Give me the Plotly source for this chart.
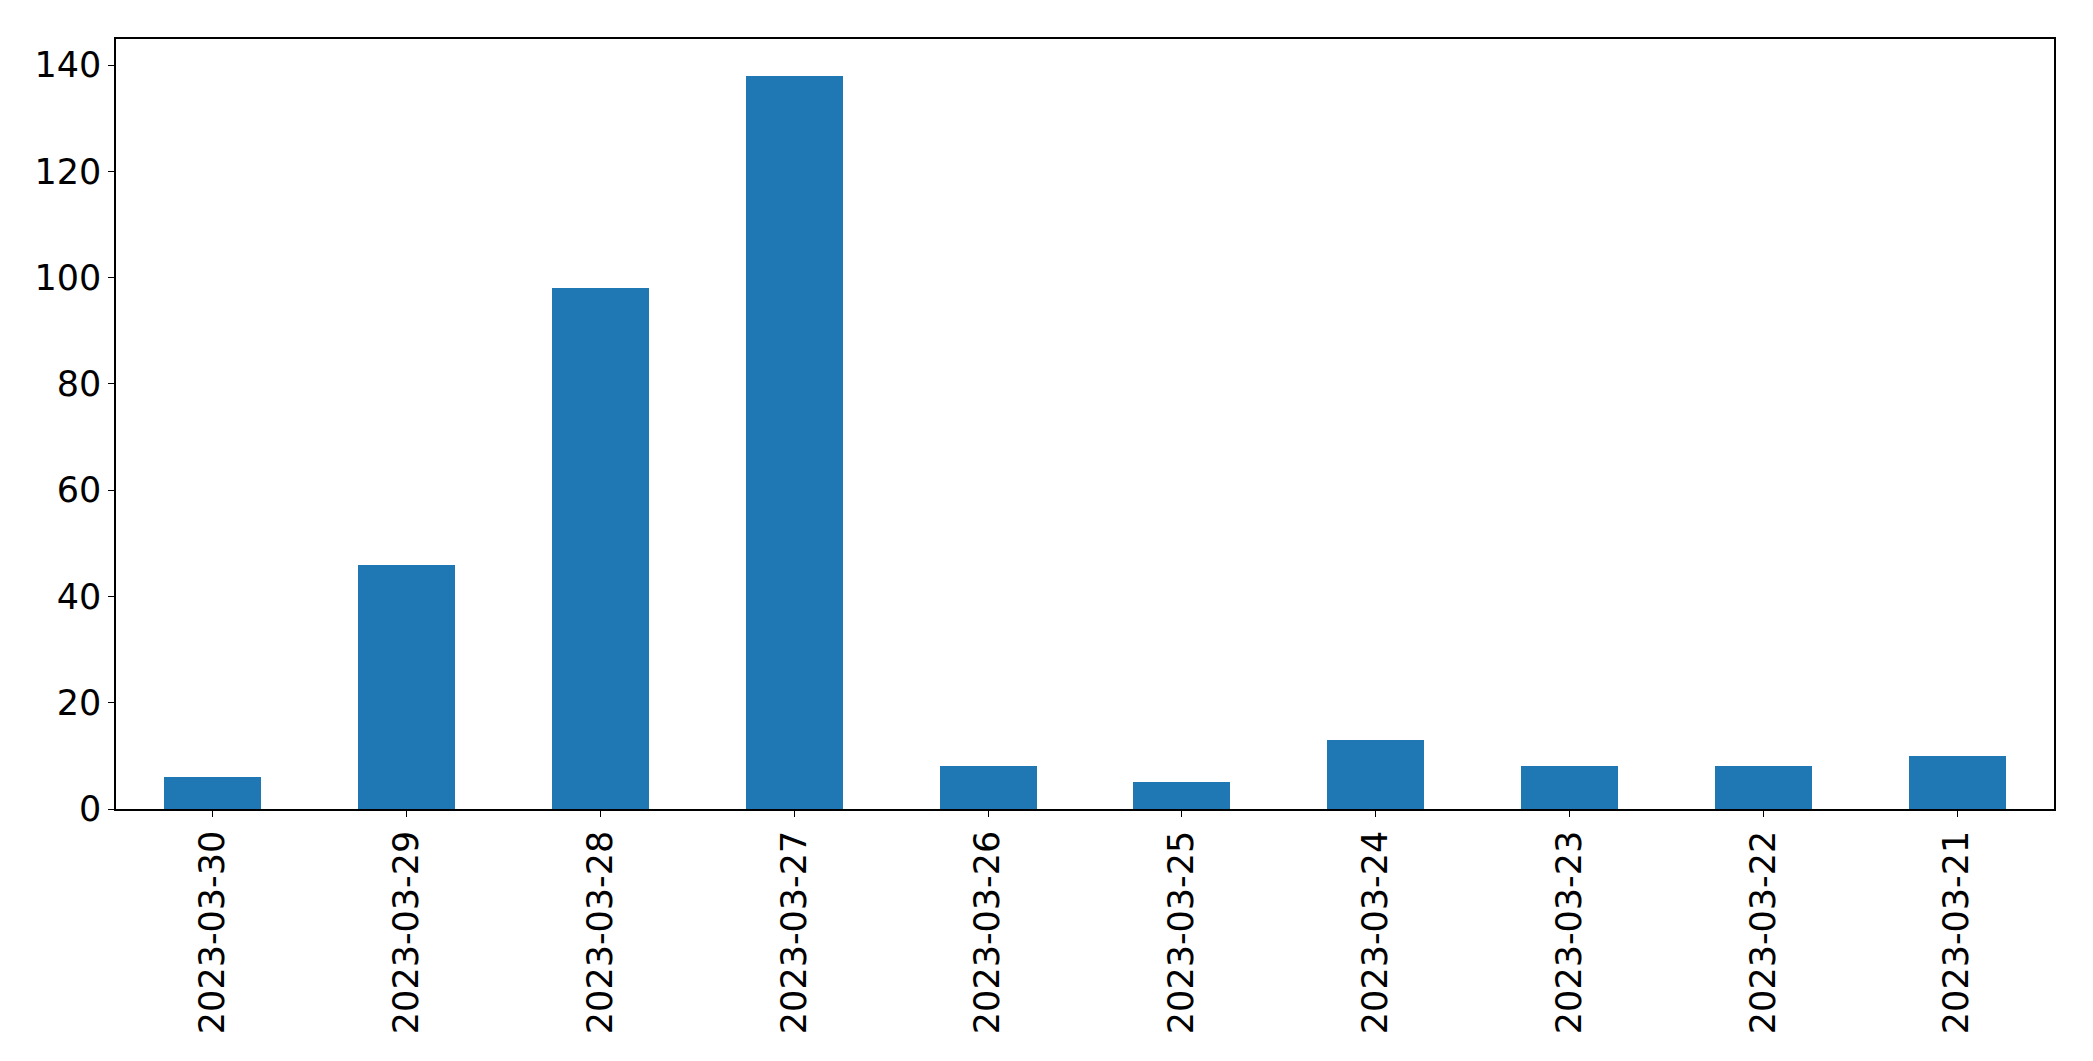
import plotly.graph_objects as go

dates = ["2023-03-30", "2023-03-29", "2023-03-28", "2023-03-27", "2023-03-26",
         "2023-03-25", "2023-03-24", "2023-03-23", "2023-03-22", "2023-03-21"]
counts = [6, 46, 98, 138, 8, 5, 13, 8, 8, 10]
y_ticks = [0, 20, 40, 60, 80, 100, 120, 140]

fig = go.Figure(go.Bar(x=dates, y=counts, marker_color="#1f77b4",
                       marker_line_width=0, width=0.5))

fig.update_layout(
    width=2085, height=1053,
    margin=dict(l=108, r=39, t=31, b=252, autoexpand=False),
    plot_bgcolor="white", paper_bgcolor="white",
    font=dict(family="DejaVu Sans", size=35, color="black"),
    showlegend=False,
    bargap=0,
)
fig.update_xaxes(type="category", range=[-0.5, 9.5], tickangle=-90,
                 tickfont=dict(family="DejaVu Sans", size=35, color="black"),
                 showline=True, linecolor="black", linewidth=1.5, mirror=True,
                 ticks="outside", ticklen=6, tickwidth=1.3, tickcolor="black",
                 showgrid=False, zeroline=False, automargin=False)
fig.update_yaxes(range=[0, max(counts) * 1.05], tickvals=y_ticks,
                 tickfont=dict(family="DejaVu Sans", size=35, color="black"),
                 showline=True, linecolor="black", linewidth=1.5, mirror=True,
                 ticks="outside", ticklen=6, tickwidth=1.3, tickcolor="black",
                 showgrid=False, zeroline=False, automargin=False)

fig.write_html("out.html")
